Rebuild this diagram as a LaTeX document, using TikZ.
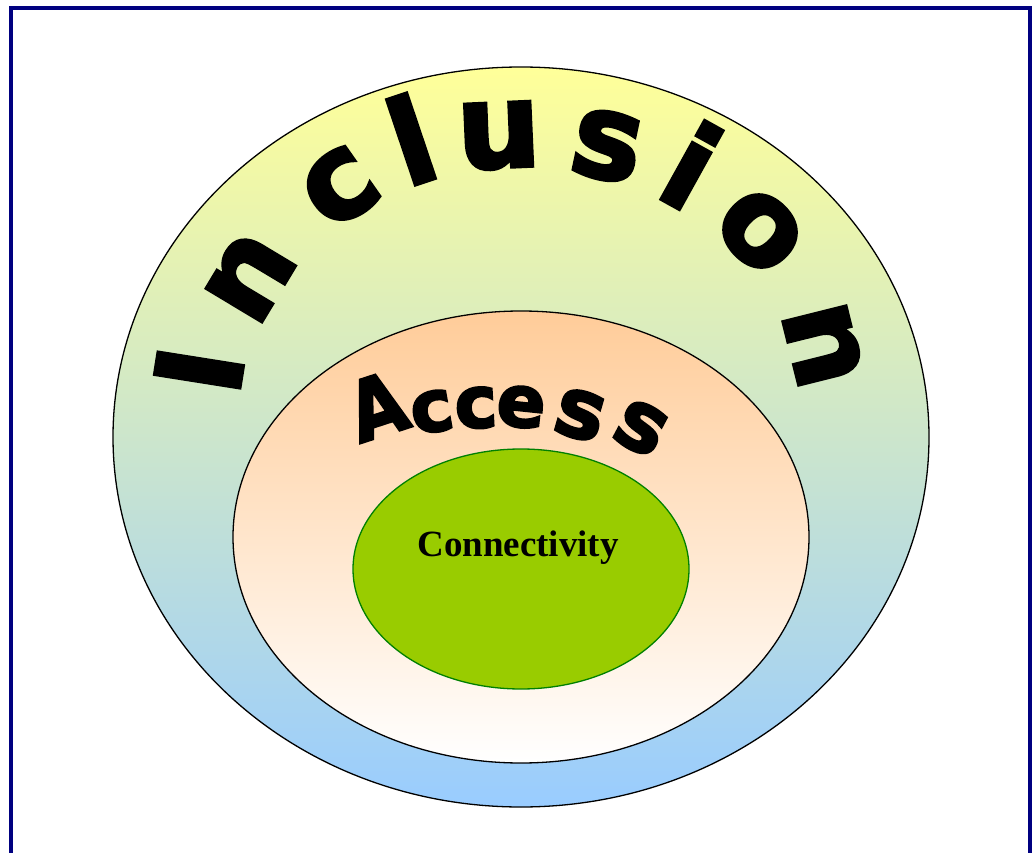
\documentclass[tikz,border=0pt]{standalone}
\usepackage{fontspec}
\usetikzlibrary{shapes.geometric}
\newfontfamily\heavyfont[BoldFeatures={FakeBold=3}]{DejaVu Sans}
\newfontfamily\labelserif{Liberation Serif}

\definecolor{frameblue}{HTML}{000080}
\definecolor{paleyellow}{HTML}{FFFF99}
\definecolor{skyblue}{HTML}{99CCFF}
\definecolor{peach}{HTML}{FFCC99}
\definecolor{leafgreen}{HTML}{99CC00}
\definecolor{rimgreen}{HTML}{008000}

\tikzset{
  ring/.style={ellipse, inner sep=0pt, line width=1.3pt},
  incl/.style={font=\heavyfont\bfseries\fontsize{118}{118}\selectfont, inner sep=0pt},
  acc/.style={font=\heavyfont\bfseries\fontsize{72}{72}\selectfont, inner sep=0pt},
  corelabel/.style={font=\labelserif\bfseries\fontsize{37}{37}\selectfont, inner sep=0pt, anchor=base}
}

\begin{document}
\begin{tikzpicture}[x=1pt,y=-1pt]
  \useasboundingbox (0,0) rectangle (1034,853);
  \clip (0,0) rectangle (1034,853);

  % frame
  \draw[frameblue, line width=4pt] (11,8) rectangle (1030,900);

  % nested ellipses
  \node[ring, draw=black, minimum width=816pt, minimum height=740pt,
        top color=paleyellow, bottom color=skyblue] (inclusion) at (521,437) {};
  \node[ring, draw=black, minimum width=576pt, minimum height=452pt,
        top color=peach, middle color=peach!55!white, bottom color=white] (access) at (521,537) {};
  \node[ring, draw=rimgreen, fill=leafgreen, minimum width=336pt, minimum height=240pt] (connectivity) at (521,569) {};

  % arched word: Inclusion
  \node[incl, rotate=81]   (i1) at (199,370) {I};
  \node[incl, rotate=59]   (i2) at (250,277) {n};
  \node[incl, rotate=35]   (i3) at (340,187) {c};
  \node[incl, rotate=18.6] (i4) at (411,139) {l};
  \node[incl, rotate=2.5]  (i5) at (499,136) {u};
  \node[incl, rotate=-12]  (i6) at (607,146) {s};
  \node[incl, rotate=-29]  (i7) at (692,165) {i};
  \node[incl, rotate=-45]  (i8) at (760,231) {o};
  \node[incl, rotate=-76]  (i9) at (823,345) {n};

  % arched word: Access
  \node[acc, rotate=18]  (a1) at (377,406) {\scalebox{1}[1.15]{A}};
  \node[acc, rotate=10]  (a2) at (432,412) {c};
  \node[acc, rotate=3]   (a3) at (476,408) {c};
  \node[acc, rotate=-6]  (a4) at (521,407) {e};
  \node[acc, rotate=-16] (a5) at (580,415) {\scalebox{1.15}{s}};
  \node[acc, rotate=-28] (a6) at (641,428) {\scalebox{1.15}{s}};

  % centre label
  \node[corelabel] (core) at (518,556) {Connectivity};
\end{tikzpicture}
\end{document}
